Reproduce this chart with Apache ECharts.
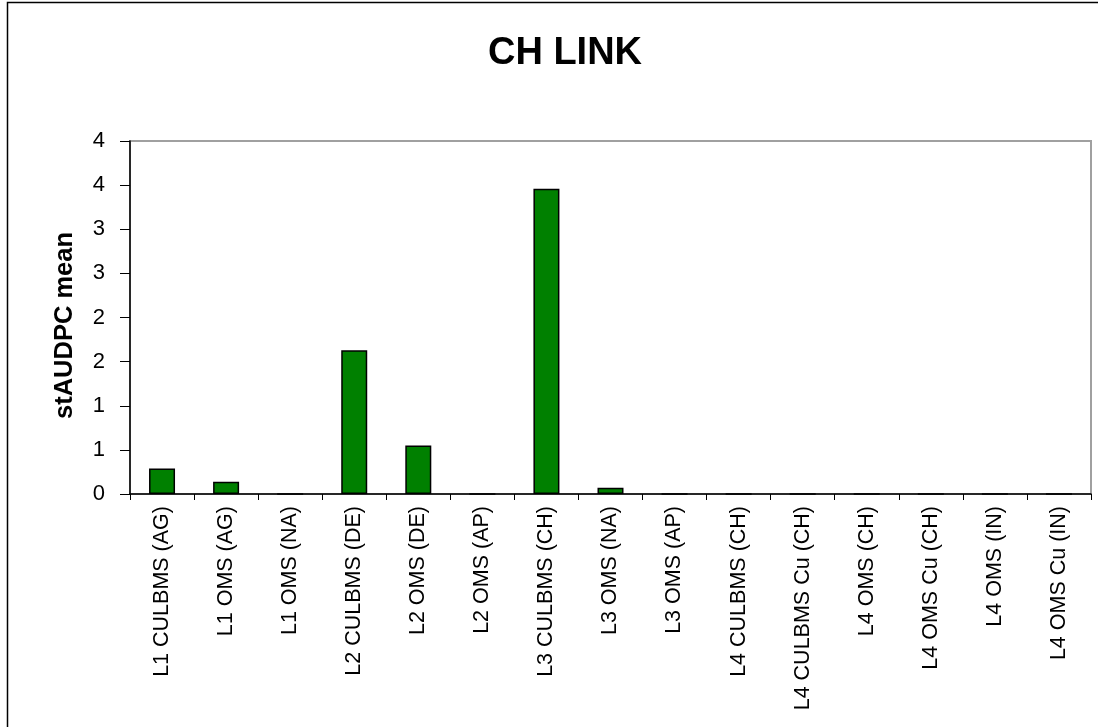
<!DOCTYPE html>
<html>
<head>
<meta charset="utf-8">
<script src="https://cdn.jsdelivr.net/npm/echarts@6/dist/echarts.min.js"></script>
<style>
html,body{margin:0;padding:0;background:#fff;}
#chart{width:1098px;height:727px;}
</style>
</head>
<body>
<div id="chart"></div>
<script>
const categories = [
  "L1 CULBMS (AG)", "L1 OMS (AG)", "L1 OMS (NA)", "L2 CULBMS (DE)", "L2 OMS (DE)",
  "L2 OMS (AP)", "L3 CULBMS (CH)", "L3 OMS (NA)", "L3 OMS (AP)", "L4 CULBMS (CH)",
  "L4 CULBMS Cu (CH)", "L4 OMS (CH)", "L4 OMS Cu (CH)", "L4 OMS (IN)", "L4 OMS Cu (IN)"
];
const stAUDPCmean = [0.29, 0.14, 0, 1.63, 0.55, 0, 3.46, 0.07, 0, 0, 0, 0, 0, 0, 0];
const chartTitle = "CH LINK";
const yAxisTitle = "stAUDPC mean";
const yMin = 0, yMax = 4, yStep = 0.5;

const chart = echarts.init(document.getElementById('chart'), null, {renderer: 'canvas'});
const font = "'Liberation Sans', Arial, sans-serif";
chart.setOption({
  animation: false,
  backgroundColor: '#ffffff',
  graphic: [{
    type: 'rect',
    shape: {x: 7.5, y: 2.5, width: 1100, height: 730},
    style: {fill: 'none', stroke: '#000', lineWidth: 1.5},
    silent: true
  }],
  title: {
    text: chartTitle,
    left: 560, top: 30, textAlign: 'center',
    textStyle: {fontFamily: font, fontSize: 38, fontWeight: 'bold', color: '#000'}
  },
  grid: {
    left: 130, right: 7, top: 141, bottom: 233,
    show: true, borderColor: '#a0a0a0', borderWidth: 2, backgroundColor: '#fff'
  },
  xAxis: {
    type: 'category',
    data: categories,
    axisLine: {lineStyle: {color: '#000', width: 1.5}},
    axisTick: {show: true, length: 6, lineStyle: {color: '#000'}},
    axisLabel: {
      rotate: 90, margin: 12, interval: 0,
      fontFamily: font, fontSize: 21.5, color: '#000'
    }
  },
  yAxis: {
    type: 'value', min: yMin, max: yMax, interval: yStep,
    name: yAxisTitle, nameLocation: 'middle', nameRotate: 90, nameGap: 52,
    nameTextStyle: {fontFamily: font, fontSize: 25.5, fontWeight: 'bold', color: '#000', padding: [0, 0, 0, -16]},
    axisLine: {show: true, lineStyle: {color: '#000', width: 1.5}},
    axisTick: {show: true, inside: false, length: 10, lineStyle: {color: '#000'}},
    splitLine: {show: false},
    axisLabel: {
      margin: 25, fontFamily: font, fontSize: 22, color: '#000',
      formatter: v => String(Math.round(v))
    }
  },
  series: [{
    type: 'bar',
    data: stAUDPCmean,
    barWidth: 26,
    itemStyle: {color: '#008000', borderColor: '#000', borderWidth: 1.5}
  }]
});
</script>
</body>
</html>
